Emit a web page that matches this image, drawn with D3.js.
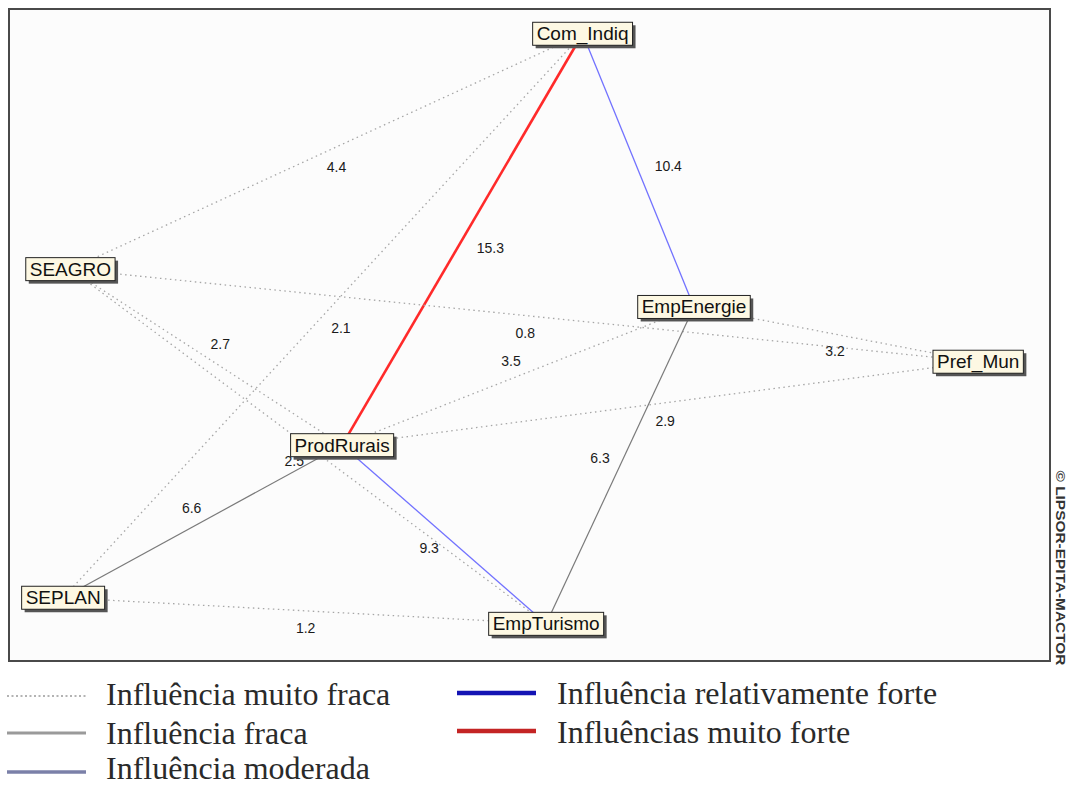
<!DOCTYPE html>
<html>
    <head>
        <meta charset="utf-8">
        <title>MACTOR convergence graph</title>
        <script type="text/javascript" src="https://cdn.jsdelivr.net/npm/d3@7"></script>
        <style>
            body { margin: 0; background: #fff; }
        </style>
    </head>
    <body>
        <svg id="svg"></svg>

        <script>

            var WIDTH = 1076;
            var HEIGHT = 787;

            // actors and their position on the map (0-100 in both directions)
            var actors = ["Com_Indiq", "SEAGRO", "EmpEnergie", "Pref_Mun", "ProdRurais", "SEPLAN", "EmpTurismo"];
            var actorX = [55.1, 5.9, 65.8, 93.1, 32.0, 5.2, 51.6];
            var actorY = [3.8, 39.9, 45.7, 54.1, 66.9, 90.3, 94.3];

            // links between actors
            var linkSource = ["SEAGRO", "Com_Indiq", "Com_Indiq", "SEPLAN", "SEAGRO", "EmpEnergie", "ProdRurais",
                              "ProdRurais", "SEAGRO", "SEAGRO", "SEPLAN", "ProdRurais", "SEPLAN", "EmpEnergie"];
            var linkTarget = ["Com_Indiq", "ProdRurais", "EmpEnergie", "Com_Indiq", "Pref_Mun", "Pref_Mun", "EmpEnergie",
                              "Pref_Mun", "ProdRurais", "EmpTurismo", "ProdRurais", "EmpTurismo", "EmpTurismo", "EmpTurismo"];
            var linkValue = [4.4, 15.3, 10.4, 2.1, 0.8, 3.2, 3.5, 2.9, 2.7, 2.5, 6.6, 9.3, 1.2, 6.3];

            // legend
            var levelNames = ["Influência muito fraca", "Influência fraca", "Influência moderada",
                              "Influência relativamente forte", "Influências muito forte"];

            // ---- layout / style ----
            var labelNudge = [[10,16],[28,9],[30,-4],[18,12],[1,18],[-1,17],[-7,-15],[5,18],[14,-13],[-14,15],[-11,-13],[-15,13],[1,17],[-20,-7]];
            var levelStyle = [
                {color: "#a6a6a6", width: 1.3, dash: "1.5,3.5"},
                {color: "#7a7a7a", width: 1.2, dash: null},
                {color: "#7272ff", width: 1.3, dash: null},
                {color: "#1818b0", width: 2.5, dash: null},
                {color: "#ff2a2a", width: 2.6, dash: null}
            ];
            var legendStyle = [
                {color: "#9a9a9a", width: 1.5, dash: "2,2.5"},
                {color: "#9a9a9a", width: 3, dash: null},
                {color: "#7b80a8", width: 3.5, dash: null},
                {color: "#1414b4", width: 4.5, dash: null},
                {color: "#c42424", width: 4.5, dash: null}
            ];

            var FRAME = {left: 9, top: 9, right: 1050, bottom: 661};

            var svg = d3.select('#svg')
                        .attr('width', WIDTH)
                        .attr('height', HEIGHT);

            var x = d3.scaleLinear().domain([0, 100]).range([FRAME.left, FRAME.right]);
            var y = d3.scaleLinear().domain([0, 100]).range([FRAME.top, FRAME.bottom]);
            var level = d3.scaleThreshold().domain([5, 8, 12, 15]).range([0, 1, 2, 3, 4]);

            var idx = function(name){ return actors.indexOf(name); };

            var nodes = actors.map(function(d, i){
                return {name: d, x: x(actorX[i]), y: y(actorY[i])};
            });
            var links = linkValue.map(function(v, i){
                return {s: nodes[idx(linkSource[i])], t: nodes[idx(linkTarget[i])], v: v, lv: level(v), i: i};
            });

            // frame
            svg.append('rect')
               .attr('x', FRAME.left).attr('y', FRAME.top)
               .attr('width', FRAME.right - FRAME.left)
               .attr('height', FRAME.bottom - FRAME.top)
               .attr('fill', '#fcfcfc')
               .attr('stroke', '#4a4a4a')
               .attr('stroke-width', 2);

            // links
            svg.selectAll('line.link')
               .data(links)
               .enter()
               .append('line')
               .attr('class', 'link')
               .attr('x1', function(d){ return d.s.x; })
               .attr('y1', function(d){ return d.s.y; })
               .attr('x2', function(d){ return d.t.x; })
               .attr('y2', function(d){ return d.t.y; })
               .attr('stroke', function(d){ return levelStyle[d.lv].color; })
               .attr('stroke-width', function(d){ return levelStyle[d.lv].width; })
               .attr('stroke-dasharray', function(d){ return levelStyle[d.lv].dash; });

            // link values
            svg.selectAll('text.val')
               .data(links)
               .enter()
               .append('text')
               .attr('class', 'val')
               .text(function(d){ return d.v.toFixed(1); })
               .attr('x', function(d){ return (d.s.x + d.t.x)/2 + labelNudge[d.i][0]; })
               .attr('y', function(d){ return (d.s.y + d.t.y)/2 + labelNudge[d.i][1]; })
               .attr('font-family', 'Liberation Sans, Arial, sans-serif')
               .attr('font-size', '14px')
               .attr('fill', '#1a1a1a')
               .attr('text-anchor', 'middle')
               .attr('dominant-baseline', 'central');

            // actor boxes
            var g = svg.selectAll('g.node')
                       .data(nodes)
                       .enter()
                       .append('g')
                       .attr('class', 'node')
                       .attr('transform', function(d){ return 'translate(' + d.x + ',' + d.y + ')'; });

            g.append('text')
             .text(function(d){ return d.name; })
             .attr('font-family', 'Liberation Sans, Arial, sans-serif')
             .attr('font-size', '19px')
             .attr('fill', '#111')
             .attr('text-anchor', 'middle')
             .attr('dominant-baseline', 'central')
             .each(function(d){ d.w = this.getComputedTextLength() + 8; });

            g.insert('rect', 'text')
             .attr('x', function(d){ return -d.w/2 + 3; })
             .attr('y', -11.5 + 3)
             .attr('width', function(d){ return d.w; })
             .attr('height', 23)
             .attr('fill', '#555');
            g.insert('rect', 'text')
             .attr('x', function(d){ return -d.w/2; })
             .attr('y', -11.5)
             .attr('width', function(d){ return d.w; })
             .attr('height', 23)
             .attr('fill', '#fdf8e3')
             .attr('stroke', '#222')
             .attr('stroke-width', 1);

            // copyright
            svg.append('text')
               .text('© LIPSOR-EPITA-MACTOR')
               .attr('transform', 'translate(1060,568) rotate(90)')
               .attr('font-family', 'Liberation Sans, Arial, sans-serif')
               .attr('font-size', '12px')
               .attr('font-weight', 'bold')
               .attr('fill', '#333')
               .attr('text-anchor', 'middle')
               .attr('dominant-baseline', 'central')
               .attr('textLength', 195)
               .attr('lengthAdjust', 'spacingAndGlyphs');

            // legend
            var legendPos = [[7, 696, 106, 705], [7, 733, 106, 744], [7, 772, 106, 779],
                             [457, 693, 557, 704], [457, 731, 557, 743]];
            var lg = svg.selectAll('g.legend')
                        .data(levelNames)
                        .enter()
                        .append('g')
                        .attr('class', 'legend');
            lg.append('line')
              .attr('x1', function(d,i){ return legendPos[i][0]; })
              .attr('x2', function(d,i){ return legendPos[i][0] + 79; })
              .attr('y1', function(d,i){ return legendPos[i][1]; })
              .attr('y2', function(d,i){ return legendPos[i][1]; })
              .attr('stroke', function(d,i){ return legendStyle[i].color; })
              .attr('stroke-width', function(d,i){ return legendStyle[i].width; })
              .attr('stroke-dasharray', function(d,i){ return legendStyle[i].dash; });
            lg.append('text')
              .text(function(d){ return d; })
              .attr('x', function(d,i){ return legendPos[i][2]; })
              .attr('y', function(d,i){ return legendPos[i][3]; })
              .attr('font-family', 'Liberation Serif, Times New Roman, serif')
              .attr('font-size', '32px')
              .attr('fill', '#2a2a2a');

        </script>
    </body>
</html>
